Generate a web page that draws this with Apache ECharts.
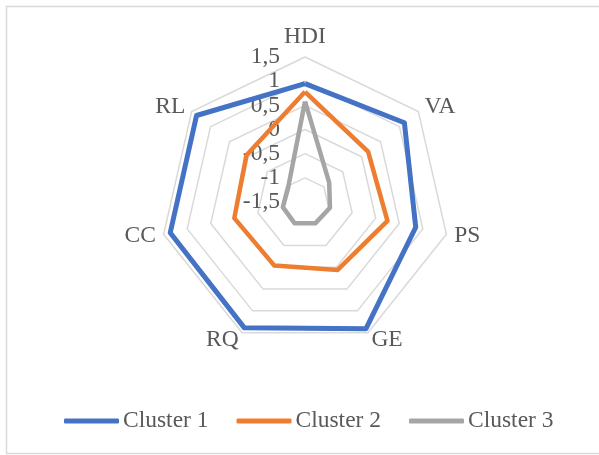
<!DOCTYPE html>
<html>
<head>
<meta charset="utf-8">
<script src="https://cdn.jsdelivr.net/npm/echarts@6/dist/echarts.min.js"></script>
<style>
html,body{margin:0;padding:0;background:#fff;}
#chart{width:599px;height:455px;}
</style>
</head>
<body>
<div id="chart"></div>
<script>
var categories = ['HDI', 'VA', 'PS', 'GE', 'RQ', 'CC', 'RL'];
var cluster1 = [0.95, 1.13, 0.85, 1.41, 1.39, 1.36, 1.37];
var cluster2 = [0.78, 0.17, 0.25, 0.06, -0.04, 0.0, 0.05];
var cluster3 = [0.58, -0.86, -0.97, -1.01, -1.01, -1.03, -1.05];
var seriesNames = ['Cluster 1', 'Cluster 2', 'Cluster 3'];
var tickValues = [-1.5, -1, -0.5, 0, 0.5, 1, 1.5];
var axisMin = -1.5, axisMax = 1.5;

var FONT = 'Liberation Serif';
var TXT = '#595959';
var FS = 23.5;
var colors = ['#4472C4', '#ED7D31', '#A5A5A5'];

// ECharts radar runs counter-clockwise; reorder so categories run clockwise from the top
var order = [0];
for (var k = categories.length - 1; k >= 1; k--) order.push(k);
function reorder(arr) { return order.map(function (i) { return arr[i]; }); }

var indicators = reorder(categories).map(function (c, i) {
  var o = { name: c, min: axisMin, max: axisMax };
  if (i === 0) {
    o.axisLabel = {
      show: true,
      margin: 25,
      color: TXT,
      fontFamily: FONT,
      fontSize: FS,
      padding: [4, 0, 0, 0],
      formatter: function (v) {
        var idx = tickValues.indexOf(+v);
        return idx >= 0 ? String(tickValues[idx]).replace('.', ',') : '';
      }
    };
  }
  return o;
});

var chart = echarts.init(document.getElementById('chart'), null, { renderer: 'canvas' });
chart.setOption({
  animation: false,
  backgroundColor: '#fff',
  color: colors,
  graphic: [{
    type: 'rect',
    shape: { x: 6.5, y: 6.5, width: 700, height: 447 },
    style: { fill: 'none', stroke: '#d9d9d9', lineWidth: 1.5 },
    silent: true, z: -1
  }],
  legend: {
    data: seriesNames,
    top: 409,
    left: 64,
    padding: 0,
    icon: 'roundRect',
    itemWidth: 55,
    itemHeight: 5,
    itemGap: 28,
    textStyle: { color: TXT, fontFamily: FONT, fontSize: FS, padding: [0, 0, 0, -1] }
  },
  radar: {
    center: [305, 202],
    radius: 145,
    startAngle: 90,
    shape: 'polygon',
    splitNumber: 6,
    indicator: indicators,
    axisName: { color: TXT, fontFamily: FONT, fontSize: FS },
    nameGap: 8,
    axisLine: { show: false },
    axisTick: { show: false },
    axisLabel: { show: false },
    splitLine: { lineStyle: { color: '#d9d9d9', width: 1.5 } },
    splitArea: { show: false }
  },
  series: [{
    type: 'radar',
    symbol: 'none',
    data: [
      { name: seriesNames[0], value: reorder(cluster1), lineStyle: { width: 5, color: colors[0] }, itemStyle: { color: colors[0] } },
      { name: seriesNames[1], value: reorder(cluster2), lineStyle: { width: 4.5, color: colors[1] }, itemStyle: { color: colors[1] } },
      { name: seriesNames[2], value: reorder(cluster3), lineStyle: { width: 4.5, color: colors[2] }, itemStyle: { color: colors[2] } }
    ]
  }]
});
</script>
</body>
</html>
